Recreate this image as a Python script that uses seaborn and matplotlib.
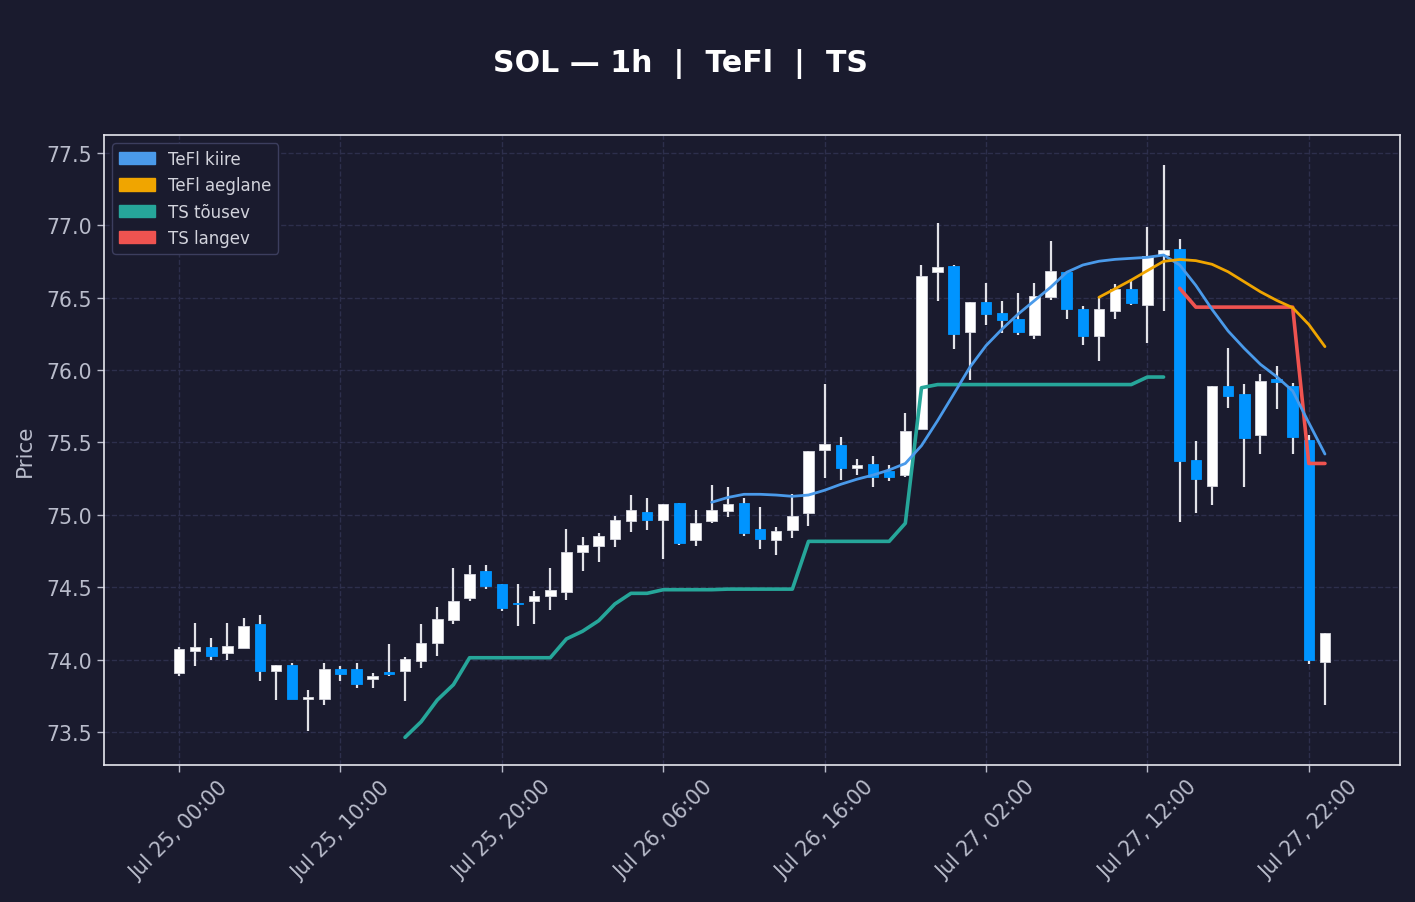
import matplotlib
matplotlib.use("Agg")
import matplotlib.pyplot as plt
import matplotlib.dates as mdates
from matplotlib.patches import Patch
import numpy as np
import pandas as pd
import seaborn as sns

# hourly candles, Jul 25 00:00 -> Jul 27 23:00
start = "2025-07-25 00:00"
n_candles = 72

opens = [73.907, 74.058, 74.088, 74.044, 74.079, 74.249, 73.921, 73.960, 73.726, 73.730,
         73.935, 73.933, 73.864, 73.910, 73.924, 73.993, 74.113, 74.272, 74.428, 74.610,
         74.520, 74.390, 74.403, 74.442, 74.469, 74.741, 74.783, 74.831, 74.956, 75.018,
         74.963, 75.080, 74.824, 74.956, 75.025, 75.080, 74.900, 74.824, 74.894, 75.011,
         75.446, 75.481, 75.322, 75.349, 75.301, 75.273, 75.593, 76.676, 76.717, 76.261,
         76.469, 76.393, 76.351, 76.240, 76.503, 76.676, 76.420, 76.234, 76.406, 76.558,
         76.451, 76.795, 76.838, 75.377, 75.197, 75.890, 75.833, 75.551, 75.941, 75.890,
         75.515, 73.982]
highs = [74.085, 74.250, 74.151, 74.250, 74.290, 74.307, 73.960, 73.977, 73.790, 73.977,
         73.958, 73.977, 73.905, 74.108, 74.015, 74.246, 74.361, 74.633, 74.654, 74.654,
         74.520, 74.522, 74.474, 74.633, 74.902, 74.845, 74.875, 74.990, 75.137, 75.117,
         75.073, 75.080, 75.032, 75.206, 75.193, 75.115, 75.055, 74.914, 75.142, 75.439,
         75.904, 75.536, 75.384, 75.405, 75.342, 75.704, 76.726, 77.016, 76.726, 76.469,
         76.600, 76.478, 76.531, 76.600, 76.890, 76.676, 76.441, 76.503, 76.593, 76.627,
         76.987, 77.415, 76.903, 75.508, 75.890, 76.154, 75.905, 75.974, 76.031, 75.913,
         75.551, 74.185]
lows = [73.890, 73.953, 73.995, 73.995, 74.079, 73.849, 73.723, 73.726, 73.507, 73.690,
        73.849, 73.806, 73.806, 73.889, 73.716, 73.944, 74.027, 74.248, 74.407, 74.488,
        74.338, 74.232, 74.248, 74.345, 74.414, 74.614, 74.676, 74.780, 74.884, 74.898,
        74.693, 74.790, 74.787, 74.942, 74.983, 74.852, 74.762, 74.721, 74.838, 74.921,
        75.253, 75.239, 75.273, 75.190, 75.232, 75.259, 75.593, 76.480, 76.146, 75.932,
        76.314, 76.258, 76.240, 76.213, 76.482, 76.351, 76.171, 76.061, 76.351, 76.448,
        76.185, 76.408, 74.951, 75.013, 75.069, 75.741, 75.195, 75.423, 75.733, 75.423,
        73.967, 73.690]
closes = [74.070, 74.088, 74.023, 74.095, 74.235, 73.921, 73.960, 73.726, 73.740, 73.935,
          73.900, 73.830, 73.889, 73.902, 74.003, 74.113, 74.278, 74.403, 74.589, 74.511,
          74.355, 74.382, 74.437, 74.479, 74.743, 74.790, 74.852, 74.962, 75.031, 74.963,
          75.073, 74.804, 74.942, 75.031, 75.073, 74.873, 74.831, 74.886, 74.990, 75.439,
          75.488, 75.322, 75.347, 75.259, 75.259, 75.577, 76.648, 76.710, 76.252, 76.469,
          76.386, 76.344, 76.261, 76.510, 76.683, 76.420, 76.234, 76.420, 76.558, 76.462,
          76.785, 76.831, 75.372, 75.246, 75.890, 75.823, 75.531, 75.926, 75.920, 75.536,
          73.997, 74.185]

# TeFl kiire (fast), starts at candle 33
tefl_fast_start = 33
tefl_fast = [75.087, 75.120, 75.142, 75.142, 75.137, 75.128, 75.137, 75.170, 75.211, 75.246,
             75.275, 75.310, 75.355, 75.478, 75.651, 75.835, 76.020, 76.169, 76.284, 76.388,
             76.480, 76.572, 76.676, 76.726, 76.752, 76.765, 76.772, 76.779, 76.795, 76.726,
             76.585, 76.420, 76.270, 76.150, 76.040, 75.955, 75.856, 75.636, 75.420]

# TeFl aeglane (slow), starts at candle 57
tefl_slow_start = 57
tefl_slow = [76.503, 76.562, 76.622, 76.687, 76.751, 76.764, 76.756, 76.731, 76.679, 76.610,
             76.541, 76.482, 76.431, 76.315, 76.162]

# TS tõusev (rising trailing stop), starts at candle 14
ts_up_start = 14
ts_up = [73.463, 73.571, 73.721, 73.827, 74.013, 74.013, 74.013, 74.013, 74.013, 74.013,
         74.143, 74.196, 74.269, 74.384, 74.458, 74.458, 74.483, 74.483, 74.483, 74.483,
         74.487, 74.487, 74.487, 74.487, 74.487, 74.817, 74.817, 74.817, 74.817, 74.817,
         74.817, 74.942, 75.878, 75.900, 75.900, 75.900, 75.900, 75.900, 75.900, 75.900,
         75.900, 75.900, 75.900, 75.900, 75.900, 75.900, 75.952, 75.952]

# TS langev (falling trailing stop), starts at candle 62
ts_down_start = 62
ts_down = [76.565, 76.435, 76.435, 76.435, 76.435, 76.435, 76.435, 76.435, 75.355, 75.355]

y_ticks = [73.5, 74.0, 74.5, 75.0, 75.5, 76.0, 76.5, 77.0, 77.5]

BG = "#1a1b2e"
GRID = "#2d2f4c"
TXT = "#b9bccb"
UP = "#ffffff"
DOWN = "#0094ff"
WICK = "#e2e2e8"
C_FAST = "#4a9aea"
C_SLOW = "#f0a500"
C_TS_UP = "#26a69a"
C_TS_DOWN = "#ef5350"

sns.set_theme(style="dark", rc={
    "figure.facecolor": BG,
    "axes.facecolor": BG,
    "axes.edgecolor": "#e6e6ee",
    "axes.linewidth": 1.2,
    "grid.color": GRID,
    "grid.linestyle": "--",
    "grid.linewidth": 1.0,
    "xtick.color": TXT,
    "ytick.color": TXT,
    "axes.labelcolor": TXT,
    "xtick.bottom": True,
    "ytick.left": True,
})
plt.rcParams["font.family"] = ["DejaVu Sans"]

times = pd.date_range(start, periods=n_candles, freq="h")
xs = mdates.date2num(times)
hour = 1 / 24

df = pd.DataFrame({"x": xs, "open": opens, "high": highs, "low": lows, "close": closes})
up = df["close"] >= df["open"]
body_h = (df["close"] - df["open"]).abs().clip(lower=0.012)
body_bot = df[["open", "close"]].min(axis=1)

fig = plt.figure(figsize=(14.15, 9.03), dpi=100)
ax = fig.add_axes([0.0735, 0.1517, 0.9159, 0.6977])

# candles: wicks then bodies
ax.vlines(df["x"], df["low"], df["high"], color=WICK, linewidth=1.6, zorder=2)
ax.bar(df["x"][up], body_h[up], bottom=body_bot[up], width=0.65 * hour,
       color=UP, edgecolor="#d6d6de", linewidth=0.6, zorder=3)
ax.bar(df["x"][~up], body_h[~up], bottom=body_bot[~up], width=0.65 * hour,
       color=DOWN, edgecolor=DOWN, linewidth=0.6, zorder=3)


def seg(start_idx, values):
    return xs[start_idx:start_idx + len(values)], values


for (sx, vals), color, lw in [
    (seg(ts_up_start, ts_up), C_TS_UP, 2.6),
    (seg(ts_down_start, ts_down), C_TS_DOWN, 2.6),
    (seg(tefl_fast_start, tefl_fast), C_FAST, 2.0),
    (seg(tefl_slow_start, tefl_slow), C_SLOW, 2.0),
]:
    sns.lineplot(x=sx, y=vals, ax=ax, color=color, linewidth=lw, zorder=4)

ax.set_xlim(xs[0] - 4.65 * hour, xs[0] + 75.65 * hour)
ax.set_ylim(73.272, 77.624)
ax.set_yticks(y_ticks)
ax.set_yticklabels([f"{v:.1f}" for v in y_ticks])
ax.set_xticks(xs[::10])
ax.xaxis.set_major_formatter(mdates.DateFormatter("%b %d, %H:%M"))
ax.tick_params(axis="both", labelsize=14.8, length=5, width=1, color=TXT)
plt.setp(ax.get_xticklabels(), rotation=45)
ax.grid(True, axis="both")
ax.set_ylabel("Price", fontsize=15.5, labelpad=8)
ax.set_xlabel("")

handles = [Patch(color=C_FAST, label="TeFl kiire"),
           Patch(color=C_SLOW, label="TeFl aeglane"),
           Patch(color=C_TS_UP, label="TS tõusev"),
           Patch(color=C_TS_DOWN, label="TS langev")]
leg = ax.legend(handles=handles, loc="upper left", fontsize=12, facecolor=BG,
                edgecolor="#3c3e5e", framealpha=1.0, labelcolor="#d2d3dc",
                labelspacing=0.5, handlelength=2.15, handleheight=0.75)

fig.text(0.4806, 0.929, "SOL — 1h  |  TeFl  |  TS", ha="center", va="center",
         fontsize=21.6, fontweight="bold", color="white")

fig.savefig("out.png", dpi=100, facecolor=BG)
